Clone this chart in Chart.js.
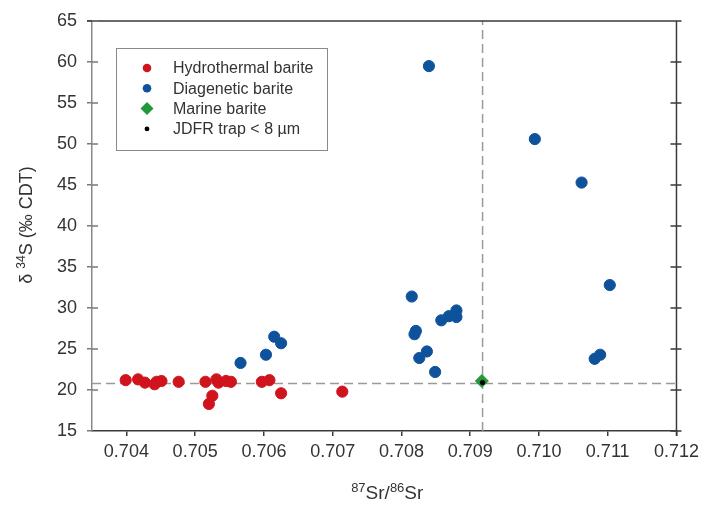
<!DOCTYPE html>
<html><head><meta charset="utf-8">
<script src="https://cdn.jsdelivr.net/npm/chart.js@4/dist/chart.umd.min.js"></script>
<style>html,body{margin:0;padding:0;background:#fff;}</style>
</head><body>
<canvas id="c" width="704" height="506"></canvas>
<script>
// ---- data ----
const hydroX = [0.70399,0.70417,0.70427,0.70441,0.70444,0.70451,0.70476,0.70515,0.70525,0.70520,0.70531,0.70534,0.70545,0.70552,0.70597,0.70608,0.70625,0.70714];
const hydroY = [21.2,21.3,20.9,20.7,21.0,21.1,21.0,21.0,19.3,18.3,21.3,20.9,21.1,21.0,21.0,21.2,19.6,19.8];
const diaX = [0.70566,0.70603,0.70615,0.70625,0.70815,0.70858,0.70869,0.70880,0.70880,0.70819,0.70821,0.70837,0.70826,0.70849,0.70840,0.70994,0.71062,0.71103,0.71081,0.71089];
const diaY = [23.3,24.3,26.5,25.7,31.4,28.5,29.0,29.7,28.9,26.8,27.2,24.7,23.9,22.2,59.5,50.6,45.3,32.8,23.8,24.3];
const marineX = [0.70917];
const marineY = [21.1];
const jdfrX = [0.70918];
const jdfrY = [20.9];
const refSr = 0.70918;      // vertical dashed reference
const refS = 20.8;          // horizontal dashed reference
const xTicks = [0.704,0.705,0.706,0.707,0.708,0.709,0.710,0.711,0.712];
const yTicks = [15,20,25,30,35,40,45,50,55,60,65];
const xMin = 0.7035, xMax = 0.712, yMin = 15, yMax = 65;
const seriesNames = ['Hydrothermal barite','Diagenetic barite','Marine barite','JDFR trap < 8 \u00B5m'];
// axis titles: [text, isSuperscript]
const xTitleParts = [['87', true], ['Sr/', false], ['86', true], ['Sr', false]];
const yTitleParts = [['\u03B4 ', false], ['34', true], ['S (\u2030 CDT)', false]];

const pts = (xs, ys) => xs.map((x, i) => ({x, y: ys[i]}));
const FONT = "'Liberation Sans', Arial, sans-serif";
const TXT = '#333333';

function drawRich(ctx, parts, size, supSize, rise) {
  const widths = parts.map(([t, sup]) => { ctx.font = (sup ? supSize : size) + 'px ' + FONT; return ctx.measureText(t).width; });
  const total = widths.reduce((a, b) => a + b, 0);
  let x = -total / 2;
  ctx.textAlign = 'left';
  ctx.textBaseline = 'alphabetic';
  parts.forEach(([t, sup], i) => {
    ctx.font = (sup ? supSize : size) + 'px ' + FONT;
    ctx.fillText(t, x, sup ? -rise : 0);
    x += widths[i];
  });
}

const framePlugin = {
  id: 'frame',
  afterDraw(chart) {
    const {ctx, chartArea: a, scales} = chart;
    const ys = scales.y;
    ctx.save();
    ctx.strokeStyle = '#3a3a3a';
    ctx.lineWidth = 1.5;
    ctx.beginPath();
    ctx.moveTo(a.left - 5, a.top); ctx.lineTo(a.right, a.top);
    ctx.moveTo(a.right, a.top); ctx.lineTo(a.right, a.bottom + 5);
    yTicks.forEach(v => {
      const p = ys.getPixelForValue(v);
      ctx.moveTo(a.right - 6, p); ctx.lineTo(a.right + 5, p);
    });
    ctx.stroke();
    ctx.strokeStyle = '#7a7a7a';
    ctx.beginPath();
    yTicks.forEach(v => {
      const p = ys.getPixelForValue(v);
      if (v > yMin) { ctx.moveTo(a.left, p); ctx.lineTo(a.left + 6, p); }
    });
    ctx.stroke();
    // axis titles
    ctx.fillStyle = TXT;
    ctx.save();
    ctx.translate((a.left + a.right) / 2 + 3, 499);
    drawRich(ctx, xTitleParts, 19, 13, 7);
    ctx.restore();
    ctx.save();
    ctx.translate(32, (a.top + a.bottom) / 2 - 1);
    ctx.rotate(-Math.PI / 2);
    drawRich(ctx, yTitleParts, 18, 12, 7);
    ctx.restore();
    // legend
    const bx = a.left + 24, by = a.top + 27, bw = 211, bh = 102;
    ctx.strokeStyle = '#8a8a8a';
    ctx.lineWidth = 1;
    ctx.strokeRect(bx + 0.5, by + 0.5, bw, bh);
    ctx.font = '16px ' + FONT;
    ctx.textAlign = 'left';
    ctx.textBaseline = 'middle';
    const ds = chart.data.datasets;
    [0, 1, 2, 3].forEach((di, i) => {
      const d = ds[di];
      const cy = by + 20 + i * 20.3;
      const cx = bx + 31;
      ctx.fillStyle = d.backgroundColor;
      ctx.beginPath();
      if (d.pointStyle === 'rectRot') {
        const r = d.legendRadius;
        ctx.moveTo(cx, cy - r); ctx.lineTo(cx + r, cy); ctx.lineTo(cx, cy + r); ctx.lineTo(cx - r, cy); ctx.closePath();
      } else {
        ctx.arc(cx, cy, d.legendRadius, 0, Math.PI * 2);
      }
      ctx.fill();
      ctx.fillStyle = TXT;
      ctx.fillText(d.label, bx + 57, cy + 1);
    });
    ctx.restore();
  }
};

new Chart(document.getElementById('c'), {
  type: 'scatter',
  data: {
    datasets: [
      {label: seriesNames[0], data: pts(hydroX, hydroY), backgroundColor: '#d0141e', borderColor: '#d0141e', pointRadius: 5.6, pointStyle: 'circle', legendRadius: 4.3, order: 4},
      {label: seriesNames[1], data: pts(diaX, diaY), backgroundColor: '#0f529c', borderColor: '#0f529c', pointRadius: 5.6, pointStyle: 'circle', legendRadius: 4.3, order: 3},
      {label: seriesNames[2], data: pts(marineX, marineY), backgroundColor: '#22983a', borderColor: '#22983a', pointRadius: 6.5, pointStyle: 'rectRot', legendRadius: 6.5, order: 2},
      {label: seriesNames[3], data: pts(jdfrX, jdfrY), backgroundColor: '#000000', borderColor: '#000000', pointRadius: 2.2, pointStyle: 'circle', legendRadius: 2.4, order: 1},
      {label: 'refH', type: 'line', data: [{x: xMin, y: refS}, {x: xMax, y: refS}], borderColor: '#9a9a9a', borderWidth: 1.5, borderDash: [9, 5], pointRadius: 0, showLine: true, order: 10},
      {label: 'refV', type: 'line', data: [{x: refSr, y: yMin}, {x: refSr, y: yMax}], borderColor: '#9a9a9a', borderWidth: 1.5, borderDash: [9, 5], pointRadius: 0, showLine: true, order: 10}
    ]
  },
  options: {
    responsive: false,
    animation: false,
    layout: {padding: {top: 21, right: 26, left: 0, bottom: 0}},
    plugins: {legend: {display: false}, tooltip: {enabled: false}},
    scales: {
      x: {
        type: 'linear', min: xMin, max: xMax,
        afterBuildTicks: s => { s.ticks = xTicks.map(v => ({value: v})); },
        afterFit: s => { s.height = 75; },
        ticks: {callback: v => v.toFixed(3), color: TXT, font: {family: FONT, size: 18}, padding: 5, maxRotation: 0, autoSkip: false},
        grid: {display: true, drawOnChartArea: false, drawTicks: true, tickLength: 5, color: '#3a3a3a', lineWidth: 1.5},
        border: {display: true, color: '#3a3a3a', width: 1.5},
        title: {display: false}
      },
      y: {
        type: 'linear', min: yMin, max: yMax,
        afterBuildTicks: s => { s.ticks = yTicks.map(v => ({value: v})); },
        afterFit: s => { s.width = 92; },
        ticks: {color: TXT, font: {family: FONT, size: 18}, padding: 10},
        grid: {display: true, drawOnChartArea: false, drawTicks: true, tickLength: 5, color: '#7a7a7a', lineWidth: 1.5},
        border: {display: true, color: '#8a8a8a', width: 1.5},
        title: {display: false}
      }
    }
  },
  plugins: [framePlugin]
});
</script>
</body></html>
